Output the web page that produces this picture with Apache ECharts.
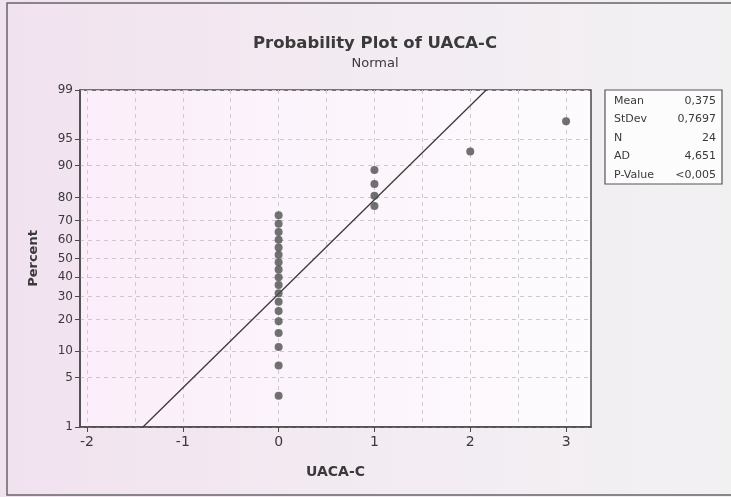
<!DOCTYPE html>
<html>
<head>
<meta charset="utf-8">
<script src="https://cdn.jsdelivr.net/npm/echarts@6/dist/echarts.min.js"></script>
<style>
  html, body { margin: 0; padding: 0; }
  #chart { width: 731px; height: 497px; }
</style>
</head>
<body>
<div id="chart"></div>
<script>
// UACA-C observations (18 zeros, four 1s, one 2, one 3)
const uacaValues = [0, 0, 0, 0, 0, 0, 0, 0, 0, 0, 0, 0, 0, 0, 0, 0, 0, 0, 1, 1, 1, 1, 2, 3];
// plotted percent of each point
const percentRanks = [2.9, 7.0, 11.1, 15.2, 19.3, 23.4, 27.5, 31.6, 35.7, 39.8, 43.9, 48.0,
  52.0, 56.1, 60.2, 64.3, 68.4, 72.5, 76.6, 80.7, 84.8, 88.9, 93.0, 97.1];
// fitted normal line, end points
const fitLineX = [-1.416, 2.166];
const fitLinePercent = [1, 99];

const xTicks = [-2, -1, 0, 1, 2, 3];
const xGridValues = [-2, -1.5, -1, -0.5, 0, 0.5, 1, 1.5, 2, 2.5, 3];
const yTicks = [1, 5, 10, 20, 30, 40, 50, 60, 70, 80, 90, 95, 99];

const statLabels = ['Mean', 'StDev', 'N', 'AD', 'P-Value'];
const statValues = ['0,375', '0,7697', '24', '4,651', '<0,005'];

// inverse normal cdf (Acklam) -> the probability axis is linear in z
function probit(p) {
  const a = [-39.69683028665376, 220.9460984245205, -275.9285104469687, 138.3577518672690, -30.66479806614716, 2.506628277459239];
  const b = [-54.47609879822406, 161.5858368580409, -155.6989798598866, 66.80131188771972, -13.28068155288572];
  const c = [-0.007784894002430293, -0.3223964580411365, -2.400758277161838, -2.549732539343734, 4.374664141464968, 2.938163982698783];
  const d = [0.007784695709041462, 0.3224671290700398, 2.445134137142996, 3.754408661907416];
  const pl = 0.02425;
  let q, r;
  if (p < pl) {
    q = Math.sqrt(-2 * Math.log(p));
    return (((((c[0] * q + c[1]) * q + c[2]) * q + c[3]) * q + c[4]) * q + c[5]) / ((((d[0] * q + d[1]) * q + d[2]) * q + d[3]) * q + 1);
  }
  if (p > 1 - pl) {
    q = Math.sqrt(-2 * Math.log(1 - p));
    return -(((((c[0] * q + c[1]) * q + c[2]) * q + c[3]) * q + c[4]) * q + c[5]) / ((((d[0] * q + d[1]) * q + d[2]) * q + d[3]) * q + 1);
  }
  q = p - 0.5;
  r = q * q;
  return (((((a[0] * r + a[1]) * r + a[2]) * r + a[3]) * r + a[4]) * r + a[5]) * q / (((((b[0] * r + b[1]) * r + b[2]) * r + b[3]) * r + b[4]) * r + 1);
}
const z = pct => probit(pct / 100);

const pointData = uacaValues.map((v, i) => [v, z(percentRanks[i])]);
const lineData = fitLineX.map((v, i) => [v, z(fitLinePercent[i])]);
const yTickZ = yTicks.map(z);

const font = '"DejaVu Sans", "Liberation Sans", sans-serif';
const txt = '#3a3a3a';
const gridDash = { color: '#d0c8ce', type: [4, 4], width: 1 };

const chart = echarts.init(document.getElementById('chart'));

// stats box
const boxX = 605, boxY = 90, boxW = 117, rowH = 18.5;
const statGraphics = [{
  type: 'rect',
  shape: { x: boxX, y: boxY, width: boxW, height: 94 },
  style: { fill: '#fdfcfd', stroke: '#555', lineWidth: 1.2 }
}];
statLabels.forEach((lab, i) => {
  statGraphics.push({
    type: 'text', x: boxX + 9, y: boxY + 11 + i * rowH,
    style: { text: lab, fill: txt, font: '11px ' + font, textVerticalAlign: 'middle' }
  });
  statGraphics.push({
    type: 'text', x: boxX + boxW - 6, y: boxY + 11 + i * rowH,
    style: { text: statValues[i], fill: txt, font: '11px ' + font, textAlign: 'right', textVerticalAlign: 'middle' }
  });
});

chart.setOption({
  animation: false,
  backgroundColor: {
    type: 'linear', x: 0, y: 0, x2: 1, y2: 0,
    colorStops: [{ offset: 0, color: '#f1e2ef' }, { offset: 0.55, color: '#f3ecf2' }, { offset: 1, color: '#f2f1f2' }]
  },
  title: [{
    text: 'Probability Plot of UACA-C',
    left: 370, top: 30, textAlign: 'center',
    textStyle: { fontSize: 16.5, fontWeight: 'bold', color: '#3a3a3a', fontFamily: font }
  }, {
    text: 'Normal',
    left: 370, top: 52, textAlign: 'center',
    textStyle: { fontSize: 13, fontWeight: 'normal', color: '#3a3a3a', fontFamily: font }
  }],
  grid: {
    left: 80, top: 90, right: 140, bottom: 70,
    show: true,
    borderColor: '#4a4a4a', borderWidth: 1.5,
    backgroundColor: {
      type: 'linear', x: 0, y: 0, x2: 1, y2: 0,
      colorStops: [{ offset: 0, color: '#fbeefa' }, { offset: 1, color: '#fdfbfd' }]
    }
  },
  xAxis: [{
    type: 'value', min: -2.073, max: 3.26,
    name: 'UACA-C', nameLocation: 'middle', nameGap: 38,
    nameTextStyle: { fontSize: 14, fontWeight: 'bold', color: txt, fontFamily: font },
    axisLine: { show: true, onZero: false, lineStyle: { color: '#4a4a4a', width: 1.5 } },
    axisTick: { show: true, length: 5, customValues: xTicks, lineStyle: { color: '#4a4a4a' } },
    axisLabel: { customValues: xTicks, color: txt, fontSize: 14, fontFamily: font, margin: 8 },
    splitLine: { show: false }
  }, {
    type: 'value', min: -2.073, max: 3.26, position: 'top',
    axisLine: { show: false, onZero: false }, axisLabel: { show: false },
    axisTick: { show: false, customValues: xGridValues },
    splitLine: { show: true, lineStyle: gridDash }
  }],
  yAxis: {
    type: 'value', min: z(1), max: z(99),
    name: 'Percent', nameLocation: 'middle', nameGap: 40,
    nameTextStyle: { fontSize: 13, fontWeight: 'bold', color: txt, fontFamily: font },
    axisLine: { show: true, onZero: false, lineStyle: { color: '#4a4a4a', width: 1.5 } },
    axisTick: { show: true, length: 5, customValues: yTickZ, lineStyle: { color: '#4a4a4a' } },
    axisLabel: {
      customValues: yTickZ, color: txt, fontSize: 12, fontFamily: font, margin: 7,
      formatter: v => {
        const k = yTickZ.findIndex(t => Math.abs(t - v) < 1e-6);
        return k >= 0 ? String(yTicks[k]) : '';
      }
    },
    splitLine: { show: true, lineStyle: gridDash }
  },
  graphic: [{
    type: 'rect', silent: true,
    shape: { x: 7, y: 3, width: 760, height: 492 },
    style: { fill: 'none', stroke: '#666', lineWidth: 1.5 }
  }].concat(statGraphics),
  series: [{
    type: 'line',
    data: lineData,
    xAxisIndex: 0,
    symbol: 'none',
    lineStyle: { color: '#3a3a3a', width: 1.3 },
    z: 2
  }, {
    type: 'scatter',
    data: pointData,
    xAxisIndex: 0,
    symbolSize: 8,
    itemStyle: { color: '#4f4f4f' },
    z: 3
  }]
});
</script>
</body>
</html>
